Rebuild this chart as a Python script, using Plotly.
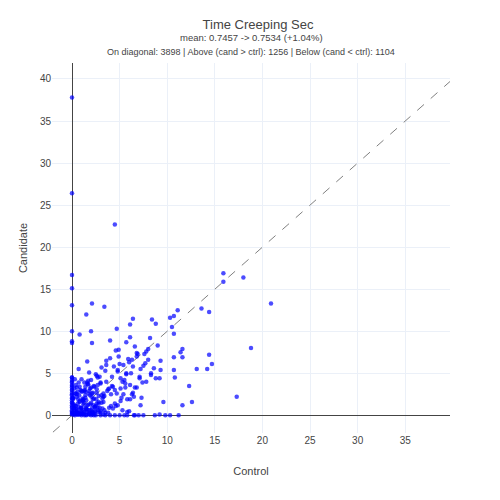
import plotly.graph_objects as go

control = [0,0,4.5,0,0,0,0,0,0,15.9,15.9,18.0,20.9,18.8,17.3,13.6,14.4,11.1,2.1,3.4,1.5,2.0,4.7,6.4,6.1,8.4,8.8,10.3,10.7,10.5,10.7,11.6,11.4,11.6,10.7,10.7,10.8,13.1,14.2,14.7,14.4,12.3,12.6,11.6,10.3,11.2,9.8,9.6,9.2,8.7,7.5,6.6,5.8,9.2,9.3,9.0,8.2,0.8,2.1,4.0,5.7,6.1,4.9,
 0.1,0.2,0.3,0.4,0.5,0.6,0.7,0.8,0.9,1.0,1.1,1.2,1.3,1.4,1.5,1.6,1.8,2.0,2.2,2.4,2.6,2.8,3.0,3.3,3.6,3.9,4.2,4.5,4.8,5.1,5.4,5.7,6.0,6.4,6.8,7.2,7.6,8.0,
 0.2,0.5,0.8,1.1,1.4,1.7,2.0,2.3,2.6,2.9,3.2,3.5,3.8,4.1,4.4,4.7,5.0,5.3,5.6,5.9,6.2,6.5,6.8,7.1,7.4,7.7,8.0,8.3,8.6,
 0.3,0.6,0.9,1.2,1.5,1.8,2.1,2.4,2.7,3.0,3.3,3.6,3.9,4.2,4.5,4.8,5.1,5.4,5.7,6.0,6.3,6.6,6.9,7.2,7.5,7.8,
 0.1,0.4,0.7,1.0,1.3,1.6,1.9,2.2,2.5,2.8,3.1,3.4,3.7,4.0,4.3,4.6,4.9,5.2,5.5,5.8,6.1,6.4,
 0,0,0,0,0,0,0,0,0,0,0.5,1.0,1.5,2.0,2.5,3.0,3.5,4.0,4.5,5.0,5.5,6.5,7.0,
 0.3,0.8,1.3,1.8,2.3,2.8,3.3,3.8,4.3,4.8,5.3,5.8,6.3,6.8,7.3,7.8,8.3,8.8,9.3,
 0.6,1.1,1.6,2.1,2.6,3.1,3.6,4.1,4.6,5.1,5.6,6.1,6.6,7.1,
 0.2,0.4,0.6,0.9,1.2,1.5,1.8,2.1,2.4,2.7,3.0,0.1,0.3,0.5,0.7,1.0,1.4,1.7,2.0,
 0.1,0.3,0.5,0.7,0.9,1.1,1.3,1.5,1.7,1.9,2.1,2.3,2.5,2.7,2.9,3.1,3.3,3.5,
 0.2,0.4,0.6,0.8,1.0,1.2,1.4,1.6,1.8,2.0,2.2,2.4,2.6,2.8,3.0,3.2,3.4,
 0.15,0.35,0.55,0.75,0.95,1.15,1.35,1.55,1.75,1.95,2.15,2.35,2.55,2.75,
 0.25,0.45,0.65,0.85,1.05,1.25,1.45,1.65,1.85,2.05,2.25,2.45,
 0,0,0,0,0,0,0,0,0,0,0,0,0,0,0,0]
candidate = [37.8,26.4,22.7,16.7,15.1,13.1,10.0,8.8,8.6,16.9,15.9,16.4,13.3,8.0,2.2,12.7,12.3,12.5,13.3,12.9,12.0,10.0,10.3,11.5,10.8,11.4,10.9,11.6,11.8,10.5,9.7,7.9,7.5,6.9,6.9,5.4,4.5,5.5,5.5,6.1,7.2,3.5,1.6,1.2,0,0,0,1.6,0.1,0,0,0,0,4.4,6.5,8.3,9.2,9.6,8.6,8.9,8.7,9.3,7.8,
 0.3,0.8,0.2,1.1,0.5,1.4,0.3,1.7,0.9,0.6,2.0,1.3,0.4,2.4,1.8,0.7,2.9,1.5,2.7,1.0,3.1,2.3,3.8,2.6,4.0,3.2,4.6,3.0,5.2,4.4,6.0,5.0,6.3,5.8,7.0,5.5,7.3,6.6,
 1.2,2.5,3.4,0.2,2.8,4.1,0.6,3.5,1.4,4.6,2.0,5.3,3.1,1.1,5.8,2.6,6.1,4.0,3.3,6.7,5.0,2.2,7.4,4.6,3.9,6.2,7.9,4.8,5.6,
 4.3,0.1,3.0,1.9,0.8,5.1,2.6,1.0,4.5,0.3,2.2,6.0,0.9,3.5,1.4,5.4,1.7,2.5,4.9,0.5,6.6,3.3,7.3,1.2,5.9,7.6,
 2.0,3.6,5.5,0.9,3.9,6.4,2.4,0.3,4.9,1.6,5.7,0.6,2.9,6.8,3.4,1.1,7.0,2.1,4.2,0.4,3.6,2.7,
 0.5,1.0,1.5,2.0,2.5,3.0,3.5,4.0,4.5,0.2,0.7,0,0,0,0,0,0,0,0,0,0,0,0,
 0.0,0.1,0.0,0.2,0.0,0.4,0.1,0.3,0.8,1.2,0.6,1.9,2.5,3.3,2.1,4.0,5.0,4.4,5.4,
 2.8,0.2,3.9,0.8,4.7,1.5,6.5,2.5,7.7,3.2,3.8,1.9,8.2,4.4,
 0.1,0.3,0.1,0.4,0.2,0.1,0.6,0.3,0.2,0.9,0.5,2.1,2.6,3.3,3.9,4.3,3.4,3.7,4.2,
 1.4,0.6,2.2,1.0,0.2,1.8,2.9,0.7,1.3,3.2,0.4,2.0,1.1,3.6,0.9,2.4,1.6,0.3,
 0.9,2.6,0.3,1.6,2.9,0.6,2.1,1.2,0.1,3.3,1.9,0.5,2.7,1.4,3.9,0.8,2.3,
 2.0,1.1,0.2,2.4,0.8,1.7,3.0,0.4,2.6,1.3,0.1,3.4,1.9,0.6,
 3.2,0.7,1.9,0.2,2.8,1.5,0.9,3.7,0.3,2.2,1.2,0.5,
 0.3,0.6,0.9,1.2,1.5,1.8,2.1,2.4,2.7,3.0,3.3,3.6,3.9,4.2,4.5,0.1]

fig = go.Figure()
fig.add_trace(go.Scatter(x=[-2, 39.7], y=[-2, 39.7], mode="lines",
                         line=dict(color="gray", dash="dash", width=1), hoverinfo="skip", showlegend=False))
fig.add_trace(go.Scatter(x=control, y=candidate, mode="markers",
                         marker=dict(color="blue", size=4.5, opacity=0.7), showlegend=False))
fig.update_layout(
    width=500, height=500, template="plotly_white",
    font=dict(family="Liberation Sans, Arial", color="#444"),
    margin=dict(l=44, r=58, t=55, b=75),
    title=dict(text="Time Creeping Sec", x=0.5, xanchor="center",
               y=0.968, yref="container", yanchor="middle", font=dict(size=13)),
    annotations=[
        dict(text="mean: 0.7457 -> 0.7534 (+1.04%)", x=0.5, y=1, yanchor="middle", yshift=26,
             xref="paper", yref="paper", showarrow=False, font=dict(size=9.5)),
        dict(text="On diagonal: 3898 | Above (cand > ctrl): 1256 | Below (cand < ctrl): 1104",
             x=0.5, y=1, yanchor="middle", yshift=11, xref="paper", yref="paper",
             showarrow=False, font=dict(size=9))],
    xaxis=dict(title=dict(text="Control", font=dict(size=11), standoff=22), range=[-2.1, 39.7], dtick=5,
               tickfont=dict(size=10), zeroline=True, zerolinecolor="#444", zerolinewidth=1, automargin=False),
    yaxis=dict(title=dict(text="Candidate", font=dict(size=11), standoff=10), range=[-2.1, 41.9], dtick=5,
               tickfont=dict(size=10), zeroline=True, zerolinecolor="#444", zerolinewidth=1, automargin=False),
)
fig.write_html("out.html")
